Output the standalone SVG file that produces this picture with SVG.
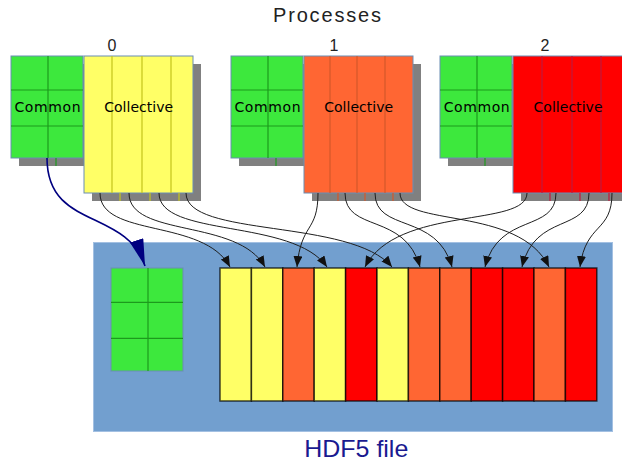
<svg xmlns="http://www.w3.org/2000/svg" width="622" height="464" viewBox="0 0 622 464">
  <style>
    .shadow { fill: #808080; }
    .common { fill: #3de83d; stroke: #6a8db4; stroke-width: 1; }
    .grid { stroke: #1d9a1d; stroke-width: 1.2; }
    .box-edge { stroke: #6a8db4; stroke-width: 1; }
    .yel { fill: #ffff66; }
    .ora { fill: #ff6633; }
    .red { fill: #ff0000; }
    .div-yel { stroke: #c4c41c; stroke-width: 1.2; }
    .div-ora { stroke: #d4582a; stroke-width: 1.2; }
    .div-red { stroke: #c0183c; stroke-width: 1.2; }
    .label { font-family: "DejaVu Sans", "Liberation Sans", sans-serif; font-size: 14px; fill: #000; text-anchor: middle; }
    .num { font-family: "Liberation Sans", Arial, sans-serif; font-size: 16px; fill: #222; text-anchor: middle; }
    .strip { stroke: #000; stroke-opacity: 0.72; stroke-width: 1.5; }
    .link { fill: none; stroke: #1e1e1e; stroke-width: 1; marker-end: url(#head); }
  </style>
  <defs>
    <marker id="head" markerUnits="userSpaceOnUse" markerWidth="12" markerHeight="10" refX="11" refY="4.5" orient="auto">
      <path d="M0,0 L11,4.5 L0,9 z" fill="#111"/>
    </marker>
    <marker id="bighead" markerUnits="userSpaceOnUse" markerWidth="30" markerHeight="16" refX="27" refY="7" orient="auto">
      <path d="M0,0 L27,7 L0,14 z" fill="#000080"/>
    </marker>
  </defs>

  <text x="327" y="22" font-family="Liberation Sans, Arial, sans-serif" font-size="20" fill="#222" text-anchor="middle" textLength="108" lengthAdjust="spacing">Processes</text>

  <!-- process 0 -->
  <g id="process-0">
    <rect class="shadow" x="19" y="64" width="72" height="102"/>
    <rect class="shadow" x="92" y="64" width="109" height="137"/>
    <rect class="common" x="11" y="56" width="72" height="102"/>
    <line class="grid" x1="48" y1="56" x2="48" y2="158"/>
    <line class="grid" x1="11" y1="90" x2="83" y2="90"/>
    <line class="grid" x1="11" y1="126" x2="83" y2="126"/>
    <line class="grid" x1="56" y1="158" x2="56" y2="166"/>
    <rect class="yel box-edge" x="84" y="56" width="109" height="137"/>
    <line class="div-yel" x1="112" y1="56" x2="112" y2="193"/>
    <line class="div-yel" x1="142" y1="56" x2="142" y2="193"/>
    <line class="div-yel" x1="171" y1="56" x2="171" y2="193"/>
    <line class="div-yel" x1="120" y1="193" x2="120" y2="201"/>
    <line class="div-yel" x1="150" y1="193" x2="150" y2="201"/>
    <line class="div-yel" x1="179" y1="193" x2="179" y2="201"/>
    <text class="num" x="112" y="51">0</text>
    <text class="label" x="47.5" y="112" textLength="66" lengthAdjust="spacing">Common</text>
    <text class="label" x="138.7" y="112" textLength="69" lengthAdjust="spacing">Collective</text>
  </g>

  <!-- process 1 -->
  <g id="process-1">
    <rect class="shadow" x="239" y="64" width="72" height="102"/>
    <rect class="shadow" x="312" y="64" width="109" height="137"/>
    <rect class="common" x="231" y="56" width="72" height="102"/>
    <line class="grid" x1="268" y1="56" x2="268" y2="158"/>
    <line class="grid" x1="231" y1="90" x2="303" y2="90"/>
    <line class="grid" x1="231" y1="126" x2="303" y2="126"/>
    <line class="grid" x1="276" y1="158" x2="276" y2="166"/>
    <rect class="ora box-edge" x="304" y="56" width="109" height="137"/>
    <line class="div-ora" x1="330" y1="56" x2="330" y2="193"/>
    <line class="div-ora" x1="357" y1="56" x2="357" y2="193"/>
    <line class="div-ora" x1="385" y1="56" x2="385" y2="193"/>
    <line class="div-ora" x1="338" y1="193" x2="338" y2="201"/>
    <line class="div-ora" x1="365" y1="193" x2="365" y2="201"/>
    <line class="div-ora" x1="393" y1="193" x2="393" y2="201"/>
    <text class="num" x="334" y="51">1</text>
    <text class="label" x="267.5" y="112" textLength="66" lengthAdjust="spacing">Common</text>
    <text class="label" x="358.7" y="112" textLength="69" lengthAdjust="spacing">Collective</text>
  </g>

  <!-- process 2 -->
  <g id="process-2">
    <rect class="shadow" x="448" y="64" width="72" height="102"/>
    <rect class="shadow" x="521" y="64" width="110" height="137"/>
    <rect class="common" x="440" y="56" width="72" height="102"/>
    <line class="grid" x1="477" y1="56" x2="477" y2="158"/>
    <line class="grid" x1="440" y1="90" x2="512" y2="90"/>
    <line class="grid" x1="440" y1="126" x2="512" y2="126"/>
    <line class="grid" x1="485" y1="158" x2="485" y2="166"/>
    <rect class="red box-edge" x="513" y="56" width="112" height="137"/>
    <line class="div-red" x1="542" y1="56" x2="542" y2="193"/>
    <line class="div-red" x1="572" y1="56" x2="572" y2="193"/>
    <line class="div-red" x1="601" y1="56" x2="601" y2="193"/>
    <line class="div-red" x1="550" y1="193" x2="550" y2="201"/>
    <line class="div-red" x1="580" y1="193" x2="580" y2="201"/>
    <line class="div-red" x1="609" y1="193" x2="609" y2="201"/>
    <text class="num" x="545" y="51">2</text>
    <text class="label" x="476.7" y="112" textLength="66" lengthAdjust="spacing">Common</text>
    <text class="label" x="568" y="112" textLength="69" lengthAdjust="spacing">Collective</text>
  </g>

  <!-- HDF5 file -->
  <g id="hdf5-file">
    <rect x="93.5" y="242.5" width="519" height="189" fill="#729fcf" stroke="#a3c0e2" stroke-width="1"/>
    <rect class="common" x="111" y="268" width="72" height="103"/>
    <line class="grid" x1="148" y1="268" x2="148" y2="371"/>
    <line class="grid" x1="111" y1="302.3" x2="183" y2="302.3"/>
    <line class="grid" x1="111" y1="338.3" x2="183" y2="338.3"/>
    <rect class="strip yel" x="220" y="268" width="31.4" height="133"/>
    <rect class="strip yel" x="251.4" y="268" width="31.4" height="133"/>
    <rect class="strip ora" x="282.8" y="268" width="31.4" height="133"/>
    <rect class="strip yel" x="314.2" y="268" width="31.4" height="133"/>
    <rect class="strip red" x="345.6" y="268" width="31.4" height="133"/>
    <rect class="strip yel" x="377" y="268" width="31.4" height="133"/>
    <rect class="strip ora" x="408.4" y="268" width="31.4" height="133"/>
    <rect class="strip ora" x="439.8" y="268" width="31.4" height="133"/>
    <rect class="strip red" x="471.2" y="268" width="31.4" height="133"/>
    <rect class="strip red" x="502.6" y="268" width="31.4" height="133"/>
    <rect class="strip ora" x="534" y="268" width="31.4" height="133"/>
    <rect class="strip red" x="565.4" y="268" width="31.4" height="133"/>
    <text x="356.3" y="457" font-family="Liberation Sans, Arial, sans-serif" font-size="24" fill="#1a1a90" text-anchor="middle" textLength="104" lengthAdjust="spacingAndGlyphs">HDF5 file</text>
  </g>

  <!-- connectors -->
  <g id="connectors">
    <path d="M47,158 C47,230 126,208 145,266" fill="none" stroke="#000080" stroke-width="1.6" marker-end="url(#bighead)"/>
    <!-- process 0 -->
    <path class="link" d="M100,193 C100,238 204,218 230,267"/>
    <path class="link" d="M129,193 C129,238 238,218 265,267"/>
    <path class="link" d="M159,193 C159,238 293,218 327,267"/>
    <path class="link" d="M186,193 C186,238 351,218 392,267"/>
    <!-- process 1 -->
    <path class="link" d="M318,193 C318,233 301,222 297,267"/>
    <path class="link" d="M345,193 C345,233 405,212 420,267"/>
    <path class="link" d="M375,193 C375,233 437,212 452,267"/>
    <path class="link" d="M400,193 C400,228 519,205 549,267"/>
    <!-- process 2 -->
    <path class="link" d="M527,193 C527,228 397,205 365,267"/>
    <path class="link" d="M556,193 C556,233 499,212 485,267"/>
    <path class="link" d="M589,193 C589,233 535,212 522,267"/>
    <path class="link" d="M612,193 C612,233 586,222 580,267"/>
  </g>
</svg>
